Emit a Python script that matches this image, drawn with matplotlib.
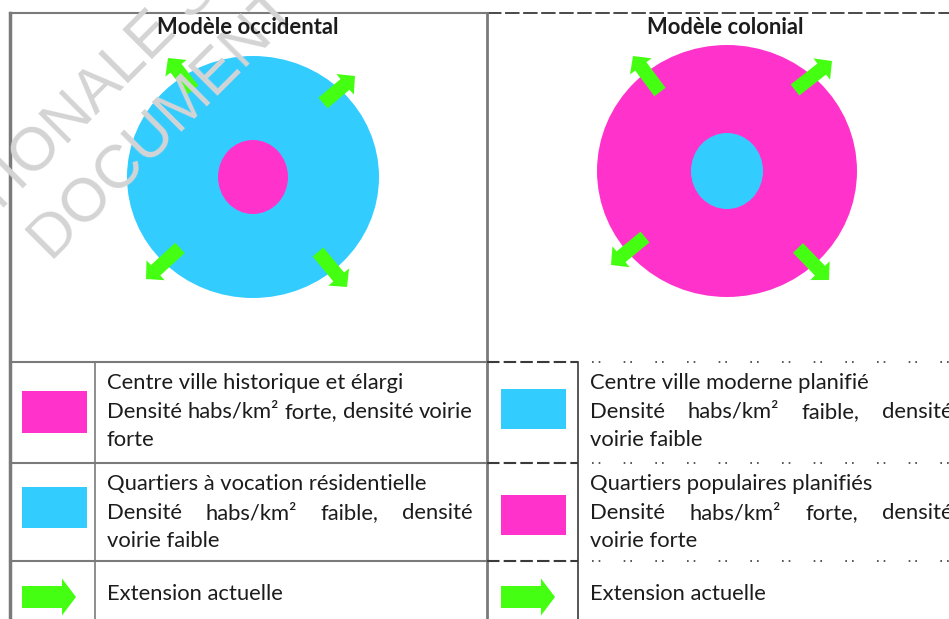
import matplotlib
matplotlib.use("Agg")
import matplotlib.pyplot as plt
from matplotlib.patches import Ellipse, Rectangle, FancyArrow
import numpy as np

plt.rcParams['font.family'] = ['Lato', 'DejaVu Sans']

ROSE = '#ff33cc'
CYAN = '#33ccff'
VERT = '#44ff11'
TEXTE = '#1c1c1c'

# --- schémas ---
titres = ['Modèle occidental', 'Modèle colonial']
titres_x = [248, 725]
centres = [(253, 177), (727, 171)]
rayons_ext = [(126, 121), (130, 126)]
rayons_int = [(35, 37), (36, 38)]
couleurs_ext = [CYAN, ROSE]
couleurs_int = [ROSE, CYAN]
# (départ, pointe) de chaque flèche d'extension
fleches = [
    [((193, 90), (168, 58)), ((323, 103), (355, 76)),
     ((180, 248), (146, 279)), ((318, 252), (347, 287))],
    [((660, 92), (633, 56)), ((795, 90), (832, 61)),
     ((645, 237), (611, 265)), ((798, 248), (829, 280))],
]

# --- légende ---
leg_couleurs = [[ROSE, CYAN, 'fleche'], [CYAN, ROSE, 'fleche']]
leg_textes = [
    [['Centre ville historique et élargi',
      'Densité habs/km² forte, densité voirie', 'forte'],
     ['Quartiers à vocation résidentielle',
      'Densité habs/km² faible, densité', 'voirie faible'],
     ['Extension actuelle']],
    [['Centre ville moderne planifié',
      'Densité habs/km² faible, densité', 'voirie faible'],
     ['Quartiers populaires planifiés',
      'Densité habs/km² forte, densité', 'voirie forte'],
     ['Extension actuelle']],
]
leg_x_texte = [107, 590]
leg_x_fin = [473, 953]
leg_x_case = [22, 501]
lignes_y = [[383, 412, 440], [484, 513, 541], [594]]
cases_y = [[(391, 433), (487, 528)], [(389, 429), (495, 535)]]
TAILLE = 15.8

fig = plt.figure(figsize=(9.49, 6.19), dpi=100)
ax = fig.add_axes([0, 0, 1, 1])
ax.set_xlim(0, 949)
ax.set_ylim(619, 0)
ax.axis('off')
renderer = fig.canvas.get_renderer()

# cadres
gris = '#7a7a7a'
fonce = '#3a3a3a'
ax.plot([10, 487], [13, 13], color=gris, lw=1.5)
ax.plot([487, 949], [13, 13], color=fonce, lw=1.3, dashes=(8, 2))
ax.plot([10, 10], [13, 619], color=gris, lw=2.5)
ax.plot([487, 487], [13, 619], color=gris, lw=2)
ax.plot([95, 95], [362, 619], color=gris, lw=1.2)
ax.plot([578, 578], [362, 619], color=fonce, lw=1.2)
for y in [362, 463, 561]:
    ax.plot([10, 487], [y, y], color=gris, lw=1.5)
    ax.plot([487, 578], [y, y], color=fonce, lw=1.5, dashes=(6, 2))
    ax.plot([592, 949], [y, y], color=fonce, lw=1.2, dashes=(1, 3, 1, 14))

# cercles et flèches
for i in range(2):
    cx, cy = centres[i]
    ax.add_patch(Ellipse((cx, cy), 2 * rayons_ext[i][0], 2 * rayons_ext[i][1],
                         color=couleurs_ext[i], lw=0, zorder=2))
    ax.add_patch(Ellipse((cx, cy), 2 * rayons_int[i][0], 2 * rayons_int[i][1],
                         color=couleurs_int[i], lw=0, zorder=3))
    for (x0, y0), (x1, y1) in fleches[i]:
        ax.add_patch(FancyArrow(x0, y0, x1 - x0, y1 - y0, width=14, head_width=27,
                                head_length=13, length_includes_head=True,
                                color=VERT, lw=0, zorder=4))
    ax.text(titres_x[i], 28, titres[i], ha='center', va='center', fontsize=TAILLE,
            fontweight='bold', color=TEXTE, zorder=6)


def ligne_justifiee(x0, x1, y, texte):
    mots = texte.split()
    objs = [ax.text(x0, y, m, ha='left', va='center', fontsize=TAILLE, color=TEXTE)
            for m in mots]
    larg = [o.get_window_extent(renderer).width for o in objs]
    ecart = (x1 - x0 - sum(larg)) / (len(mots) - 1)
    x = x0
    for o, w in zip(objs, larg):
        o.set_x(x)
        x += w + ecart


for i in range(2):
    for r in range(3):
        for k, ligne in enumerate(leg_textes[i][r]):
            y = lignes_y[r][k]
            if k == 1:
                ligne_justifiee(leg_x_texte[i], leg_x_fin[i], y, ligne)
            else:
                ax.text(leg_x_texte[i], y, ligne, ha='left', va='center',
                        fontsize=TAILLE, color=TEXTE)
        if leg_couleurs[i][r] == 'fleche':
            xa = leg_x_case[i]
            ax.add_patch(FancyArrow(xa, 597, 54, 0, width=22, head_width=37,
                                    head_length=14, length_includes_head=True,
                                    color=VERT, lw=0))
        else:
            y0, y1 = cases_y[i][r]
            ax.add_patch(Rectangle((leg_x_case[i], y0), 65, y1 - y0,
                                   color=leg_couleurs[i][r], lw=0))

# filigrane (texte incliné à 45°, gris clair)
filigranes = ['NATIONALE SUJET', 'DOCUMENT REPONSE']
fil_repere = [(38, 153), (56, 236)]      # centre d'une lettre repère
fil_avant = [('NATI', 'O'), ('', 'D')]    # texte avant la lettre repère
FIL = dict(fontsize=44, family='Liberation Sans')


def largeur(s):
    if not s:
        return 0
    t = ax.text(0, 0, s, **FIL)
    w = t.get_window_extent(renderer).width
    t.remove()
    return w


for txt, (x, y), (avant, lettre) in zip(filigranes, fil_repere, fil_avant):
    d = largeur(avant) + largeur(lettre) / 2
    ax.text(x - d / np.sqrt(2), y + d / np.sqrt(2), txt, rotation=45,
            rotation_mode='anchor', ha='left', va='center', color='#d4d4d4',
            zorder=5, **FIL)

fig.savefig('out.png', dpi=100)
